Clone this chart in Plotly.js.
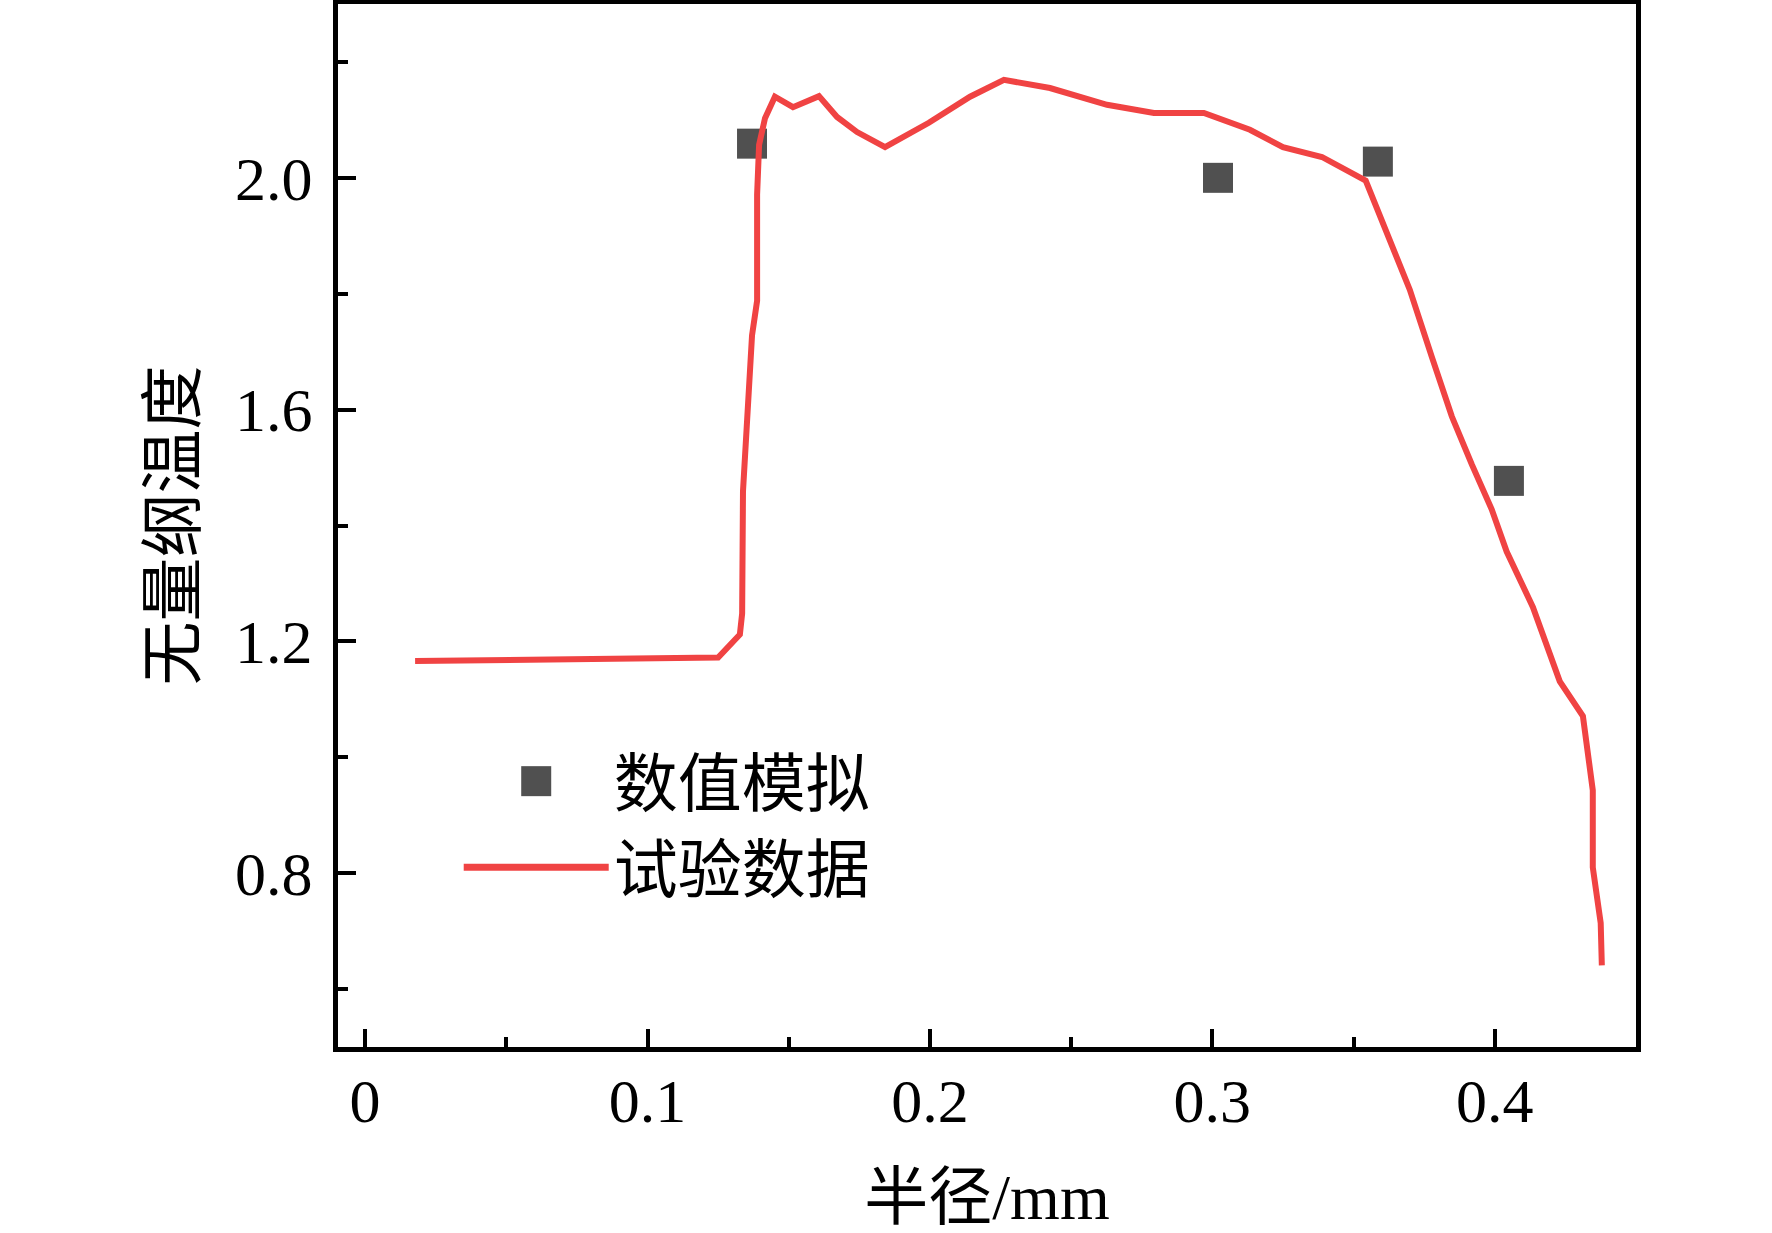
<!DOCTYPE html>
<html>
<head>
<meta charset="utf-8">
<script src="https://cdn.plot.ly/plotly-3.0.1.min.js"></script>
<style>
  html, body { margin: 0; padding: 0; background: #fff; }
  #chart { width: 1772px; height: 1233px; }
</style>
</head>
<body>
<div id="chart"></div>
<script>
// 试验数据 (red line)
const expR = [0.0177, 0.0708, 0.1250, 0.1327, 0.1335, 0.1338, 0.1352, 0.1370, 0.1388, 0.1388,
              0.1395, 0.1416, 0.1451, 0.1515, 0.1607, 0.1671, 0.1742, 0.1841, 0.1996, 0.2142,
              0.2262, 0.2425, 0.2627, 0.2793, 0.2970, 0.3133, 0.3250, 0.3388, 0.3543, 0.3618,
              0.3699, 0.3777, 0.3848, 0.3919, 0.3989, 0.4042, 0.4135, 0.4230, 0.4312, 0.4347,
              0.4347, 0.4375, 0.4379];
const expT = [1.166, 1.169, 1.172, 1.212, 1.248, 1.459, 1.590, 1.728, 1.788, 1.971,
              2.057, 2.103, 2.140, 2.122, 2.141, 2.105, 2.079, 2.053, 2.095, 2.140,
              2.169, 2.155, 2.126, 2.112, 2.112, 2.083, 2.053, 2.036, 1.995, 1.905,
              1.807, 1.691, 1.588, 1.505, 1.428, 1.355, 1.259, 1.131, 1.071, 0.943,
              0.810, 0.714, 0.641];

// 数值模拟 (square markers)
const simR = [0.137, 0.302, 0.3586, 0.405];
const simT = [2.059, 2.000, 2.028, 1.477];

const xTickVals = [0, 0.1, 0.2, 0.3, 0.4];
const yTickVals = [0.8, 1.2, 1.6, 2.0];

const FONT = 'Liberation Serif, Noto Sans CJK SC, serif';

var sim = {
    x: simR,
    y: simT,
    mode: 'markers',
    type: 'scatter',
    name: '数值模拟',
    marker: {symbol: 'square', size: 30, color: '#505050'}
};

var exp = {
    x: expR,
    y: expT,
    mode: 'lines',
    type: 'scatter',
    name: '试验数据',
    line: {color: '#f04343', width: 6}
};

var layout = {
    width: 1772,
    height: 1233,
    margin: {l: 338, r: 136, t: 4, b: 186},
    paper_bgcolor: '#fff',
    plot_bgcolor: '#fff',
    font: {family: FONT, size: 62, color: '#000'},
    showlegend: true,
    legend: {
        x: 0.093, y: 0.301, xanchor: 'left', yanchor: 'top',
        bgcolor: 'rgba(0,0,0,0)',
        font: {family: FONT, size: 64, color: '#000'},
        itemwidth: 145,
        tracegroupgap: 0
    },
    xaxis: {
        range: [-0.0096, 0.45],
        tickvals: xTickVals,
        ticktext: xTickVals.map(String),
        ticks: 'inside', ticklen: 18, tickwidth: 4, tickcolor: '#000',
        minor: {dtick: 0.05, tick0: 0, ticks: 'inside', ticklen: 10, tickwidth: 4, tickcolor: '#000'},
        showline: true, linewidth: 5, linecolor: '#000', mirror: true,
        showgrid: false, zeroline: false,
        ticklabelstandoff: -4,
        tickfont: {family: FONT, size: 62},
        title: {text: '半径/mm', font: {family: FONT, size: 64}, standoff: 50}
    },
    yaxis: {
        range: [0.5, 2.3],
        tickvals: yTickVals,
        ticktext: yTickVals.map(v => v.toFixed(1)),
        ticks: 'inside', ticklen: 18, tickwidth: 4, tickcolor: '#000',
        minor: {dtick: 0.2, tick0: 0, ticks: 'inside', ticklen: 10, tickwidth: 4, tickcolor: '#000'},
        showline: true, linewidth: 5, linecolor: '#000', mirror: true,
        showgrid: false, zeroline: false,
        ticklabelstandoff: 8,
        tickfont: {family: FONT, size: 62},
        title: {text: '无量纲温度', font: {family: FONT, size: 64}, standoff: 20}
    }
};

Plotly.newPlot('chart', [sim, exp], layout, {staticPlot: true}).then(function(gd) {
    // legend caps marker size at 16px, the original shows it full size
    gd.querySelectorAll('.legend .legendpoints path').forEach(function(p) {
        p.setAttribute('d', 'M15,15H-15V-15H15Z');
    });
    gd.querySelectorAll('.legend .legendlines path').forEach(function(p) {
        p.style.strokeWidth = '7px';
    });
});
</script>
</body>
</html>
